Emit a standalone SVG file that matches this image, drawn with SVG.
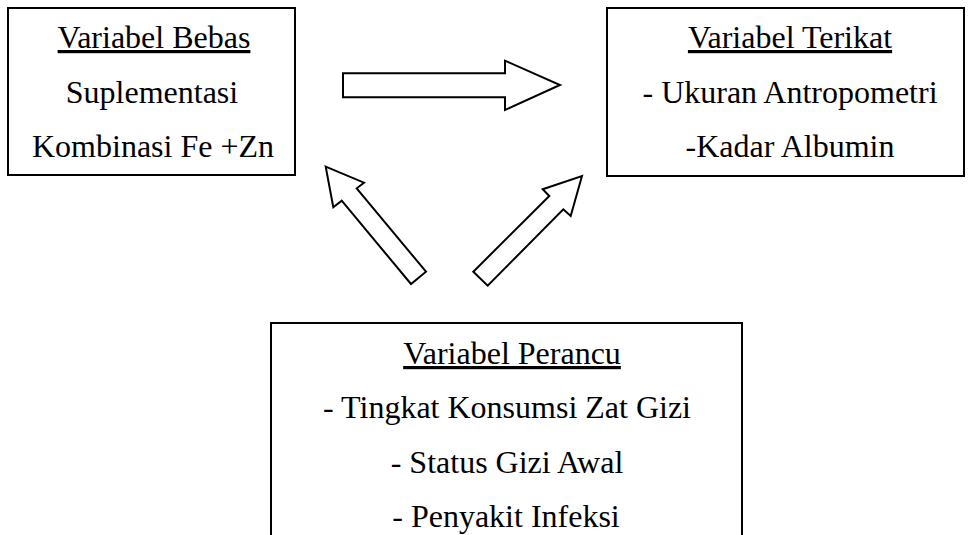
<svg xmlns="http://www.w3.org/2000/svg" width="968" height="535" viewBox="0 0 968 535">
<style>
.box{fill:#fff;stroke:#000;stroke-width:2}
.arr{fill:#fff;stroke:#000;stroke-width:2;stroke-linejoin:miter}
text{font-family:"Liberation Serif","Times New Roman",serif;font-size:32px;fill:#000;text-anchor:middle}
.u{text-decoration:underline}
</style>
<rect width="968" height="535" fill="#fff"/>
<g id="bebas">
<rect class="box" x="8" y="8" width="287" height="167"/>
<text class="u" x="154" y="48">Variabel Bebas</text>
<text x="152" y="103">Suplementasi</text>
<text x="153" y="157">Kombinasi Fe +Zn</text>
</g>
<g id="terikat">
<rect class="box" x="607" y="8" width="357" height="168"/>
<text class="u" x="790" y="48">Variabel Terikat</text>
<text x="790" y="103">- Ukuran Antropometri</text>
<text x="790" y="157">-Kadar Albumin</text>
</g>
<g id="perancu">
<rect class="box" x="271" y="323" width="471" height="230"/>
<text class="u" x="512" y="364">Variabel Perancu</text>
<text x="507" y="418">- Tingkat Konsumsi Zat Gizi</text>
<text x="507" y="473">- Status Gizi Awal</text>
<text x="506" y="527">- Penyakit Infeksi</text>
</g>
<g id="connectors">
<polygon class="arr" points="343,73.3 505,73.3 505,60.7 560,85 505,110 505,97.3 343,97.3"/>
<polygon class="arr" points="325.7,166.7 364,182.7 356.7,188.3 426,271.7 411,284 341.7,200.7 333.3,207.3"/>
<polygon class="arr" points="582,176 570.7,216 563.3,209.3 487.7,285.7 473.3,271.7 549.3,196 542.7,189.3"/>
</g>
</svg>
